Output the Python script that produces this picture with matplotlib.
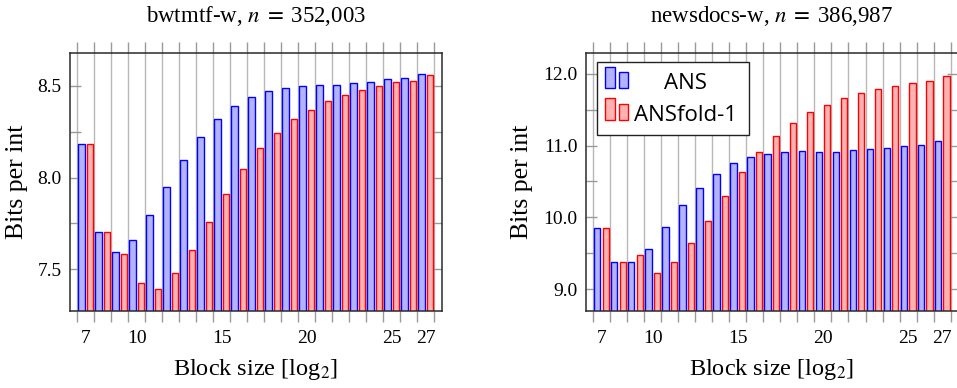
import numpy as np
import matplotlib
matplotlib.use("Agg")
import matplotlib.pyplot as plt
from matplotlib.patches import Rectangle
from matplotlib.ticker import FixedLocator, MultipleLocator

plt.rcParams['font.family'] = ['Liberation Serif', 'DejaVu Serif']
plt.rcParams['mathtext.fontset'] = 'stix'

block_sizes = list(range(7, 28))
xtick_labels = [7, 10, 15, 20, 25, 27]

bwt_ans = [8.182, 7.705, 7.596, 7.658, 7.794, 7.948, 8.095, 8.220, 8.318, 8.391,
           8.440, 8.469, 8.485, 8.496, 8.502, 8.502, 8.513, 8.522, 8.536, 8.540, 8.564]
bwt_fold = [8.182, 7.705, 7.582, 7.424, 7.391, 7.480, 7.603, 7.758, 7.910, 8.046,
            8.159, 8.244, 8.317, 8.366, 8.417, 8.447, 8.475, 8.496, 8.518, 8.525, 8.556]

news_ans = [9.850, 9.385, 9.376, 9.566, 9.872, 10.173, 10.410, 10.600, 10.753, 10.836,
            10.878, 10.906, 10.920, 10.906, 10.915, 10.934, 10.948, 10.971, 10.999, 11.013, 11.068]
news_fold = [9.850, 9.385, 9.473, 9.223, 9.385, 9.640, 9.955, 10.303, 10.628, 10.906,
             11.133, 11.314, 11.462, 11.569, 11.657, 11.736, 11.782, 11.828, 11.870, 11.893, 11.968]

titles = ["bwtmtf-w, $n\\;=\\;$352,003", "newsdocs-w, $n\\;=\\;$386,987"]
series_names = ["ANS", "ANSfold-1"]

BLUE_E, BLUE_F = '#0000ff', '#b3b3ff'
RED_E, RED_F = '#ff0000', '#ffb3b3'
GRID = '#b8b8b8'
TICKC = '#9a9a9a'

W, H = 957, 388
fig = plt.figure(figsize=(W / 100, H / 100), dpi=100)

def axrect(l, r, t, b):
    return [l / W, 1 - b / H, (r - l) / W, (b - t) / H]

ax1 = fig.add_axes(axrect(70, 441.7, 52.7, 311))
ax2 = fig.add_axes(axrect(585.7, 958, 52.7, 311))

configs = [
    (ax1, bwt_ans, bwt_fold, (7.273, 8.68), [7.5, 8.0, 8.5], 0.25, ['7.5', '8.0', '8.5']),
    (ax2, news_ans, news_fold, (8.70, 12.29), [9.0, 10.0, 11.0, 12.0], 0.5, ['9.0', '10.0', '11.0', '12.0']),
]

x = np.array(block_sizes, dtype=float)
for i, (ax, a, f, ylim, yt, ymin_step, ytl) in enumerate(configs):
    ax.bar(x - 0.25, a, width=0.37, color=BLUE_F, edgecolor=BLUE_E, linewidth=1.0, zorder=3, bottom=0)
    ax.bar(x + 0.25, f, width=0.37, color=RED_F, edgecolor=RED_E, linewidth=1.0, zorder=3, bottom=0)
    ax.set_xlim(6.07, 27.93)
    ax.set_ylim(*ylim)
    ax.set_xticks(xtick_labels)
    ax.set_xticklabels([str(v) for v in xtick_labels], fontsize=14)
    ax.xaxis.set_minor_locator(FixedLocator(np.arange(6.5, 28.0, 1.0)))
    ax.tick_params(axis='x', which='major', length=0, pad=14)
    ax.tick_params(axis='x', which='minor', direction='out', length=8, width=1.0,
                   color=TICKC, top=True, bottom=True)
    ax.grid(True, axis='x', which='minor', color=GRID, linewidth=1.0, zorder=0)
    ax.grid(False, axis='x', which='major')
    ax.set_yticks(yt)
    ax.set_yticklabels(ytl, fontsize=14)
    ax.yaxis.set_minor_locator(MultipleLocator(ymin_step))
    ax.tick_params(axis='y', which='both', direction='in', length=8, width=1.0,
                   color=TICKC, left=True, right=True, pad=6)
    ax.set_axisbelow(True)
    for s in ax.spines.values():
        s.set_color('#2a2a2a')
        s.set_linewidth(1.1)
        s.set_zorder(5)
    ax.set_title(titles[i], fontsize=16.5, pad=22)
    ax.set_xlabel("Block size [log$_2$]", fontsize=17.5, labelpad=7)
    ax.set_ylabel("Bits per int", fontsize=18.5, labelpad=7)

# legend drawn in right axes
def fx(px):
    return (px - 585.7) / (958 - 585.7)

def fy(py):
    return (311 - py) / (311 - 52.7)

box = Rectangle((fx(597), fy(135)), fx(749) - fx(597), fy(61.7) - fy(135),
                transform=ax2.transAxes, facecolor='white', edgecolor='#222222',
                linewidth=1.0, zorder=10)
ax2.add_patch(box)
for (ef, ff, ty, sy, bot, name, tb) in [
        (BLUE_E, BLUE_F, 66.7, 72.0, 88.3, series_names[0], 89.3),
        (RED_E, RED_F, 98.3, 103.7, 120.0, series_names[1], 120.7)]:
    ax2.add_patch(Rectangle((fx(605), fy(bot)), fx(615) - fx(605), fy(ty) - fy(bot),
                            transform=ax2.transAxes, facecolor=ff, edgecolor=ef,
                            linewidth=1.0, zorder=11))
    ax2.add_patch(Rectangle((fx(618.7), fy(bot)), fx(628.3) - fx(618.7), fy(sy) - fy(bot),
                            transform=ax2.transAxes, facecolor=ff, edgecolor=ef,
                            linewidth=1.0, zorder=11))
    ax2.text(fx(685), fy(tb), name, transform=ax2.transAxes, ha='center', va='baseline',
             fontsize=16, family=['Open Sans', 'DejaVu Sans'], zorder=12)

fig.savefig("out.png", dpi=100)
